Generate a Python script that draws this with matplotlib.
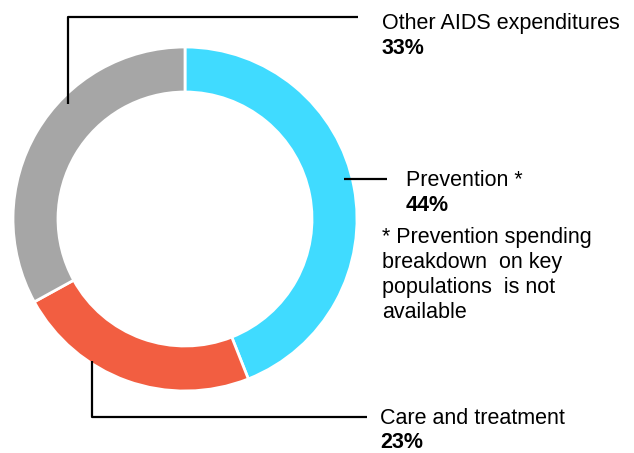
import matplotlib
matplotlib.use("Agg")
import matplotlib.pyplot as plt

categories = ["Prevention *", "Care and treatment", "Other AIDS expenditures"]
values = [44, 23, 33]
pct_labels = ["44%", "23%", "33%"]
colors = ["#40DBFF", "#F25E41", "#A6A6A6"]
note_lines = ["* Prevention spending", "breakdown  on key", "populations  is not", "available"]

plt.rcParams['font.family'] = ['Liberation Sans', 'DejaVu Sans']

W, H = 634, 453
fig = plt.figure(figsize=(W / 100, H / 100), dpi=100)
ax = fig.add_axes([0, 0, 1, 1])

def Y(y):
    return H - y

cx, cy, R, ring = 185, Y(219), 172, 45
ax.pie(values, colors=colors, startangle=90, counterclock=False,
       center=(cx, cy), radius=R, frame=True,
       wedgeprops=dict(width=ring, edgecolor="white", linewidth=2))
ax.set_xlim(0, W)
ax.set_ylim(0, H)
ax.set_aspect("equal")
ax.axis("off")

lw = 1.6
ax.plot([68, 68, 358], [Y(104), Y(16.5), Y(16.5)], color="black", lw=lw, solid_capstyle="butt")
ax.plot([92, 92, 367], [Y(361), Y(416.5), Y(416.5)], color="black", lw=lw, solid_capstyle="butt")
ax.plot([344, 387], [Y(179), Y(179)], color="black", lw=lw, solid_capstyle="butt")

fs = 15.5
ax.text(382, Y(29), categories[2], fontsize=fs, va="baseline", ha="left")
ax.text(382, Y(54), pct_labels[2], fontsize=fs, va="baseline", ha="left", fontweight="bold")
ax.text(380, Y(424), categories[1], fontsize=fs, va="baseline", ha="left")
ax.text(380, Y(448), pct_labels[1], fontsize=fs, va="baseline", ha="left", fontweight="bold")
ax.text(406, Y(186), categories[0], fontsize=fs, va="baseline", ha="left")
ax.text(406, Y(211), pct_labels[0], fontsize=fs, va="baseline", ha="left", fontweight="bold")
for i, line in enumerate(note_lines):
    ax.text(382, Y(243 + 25 * i), line, fontsize=fs, va="baseline", ha="left")

fig.savefig("out.png", dpi=100)
